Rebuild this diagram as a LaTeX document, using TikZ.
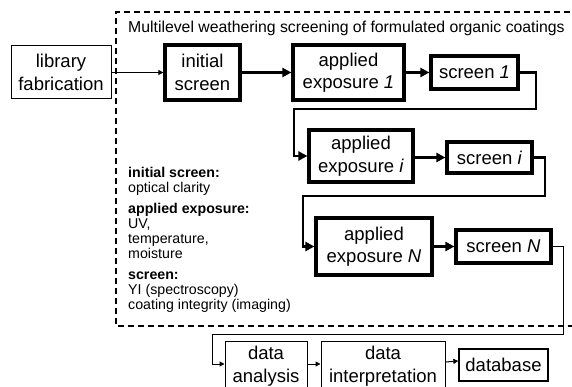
\documentclass[tikz,border=0pt]{standalone}
\usepackage{fontspec}
\setmainfont{Liberation Sans}
\usetikzlibrary{arrows.meta}
\tikzset{
  big/.style={font=\fontsize{18.5}{22.5}\selectfont},
  thickbox/.style={draw, line width=3.2pt, inner sep=0pt, align=center, big},
  thinbox/.style={draw, line width=1pt, inner sep=0pt, align=center, big},
  thickarrow/.style={line width=2.6pt, -{Triangle[length=9pt,width=9pt]}},
  thinarrow/.style={line width=1pt, -{Triangle[length=5pt,width=5pt]}},
}
\begin{document}
\begin{tikzpicture}[x=1pt,y=-1pt]
\useasboundingbox (0,0) rectangle (572,387);
\clip (0,0) rectangle (572,387);
\fill[white] (0,0) rectangle (572,387);
% dashed frame
\draw[line width=1.5pt, dash pattern=on 6pt off 4pt] (590,12) -- (116,12) -- (116,326) -- (590,326);
\node[anchor=base west, inner sep=0pt, font=\fontsize{15.8}{18}\selectfont] (title) at (128,32.5) {Multilevel weathering screening of formulated organic coatings};
% nodes
\node[thinbox, minimum width=100pt, minimum height=53pt] (lib) at (61,72.5) {library\\fabrication};
\node[thickbox, minimum width=75pt, minimum height=55pt] (init) at (202.5,72.5) {initial\\screen};
\node[thickbox, minimum width=111pt, minimum height=55pt] (ae1) at (348.5,72.5) {applied\\exposure \textit{1}};
\node[thickbox, minimum width=87pt, minimum height=33pt] (s1) at (474.5,72.5) {screen \textit{1}};
\node[thickbox, minimum width=104pt, minimum height=52pt] (aei) at (361,156) {applied\\exposure \textit{i}};
\node[thickbox, minimum width=85pt, minimum height=31pt] (si) at (489.5,157.5) {screen \textit{i}};
\node[thickbox, minimum width=116pt, minimum height=57pt] (aeN) at (374,246.5) {applied\\exposure \textit{N}};
\node[thickbox, minimum width=95pt, minimum height=33pt] (sN) at (503.5,246.5) {screen \textit{N}};
\node[thinbox, minimum width=82pt, minimum height=50pt] (da) at (266,366) {data\\analysis};
\node[thinbox, minimum width=124pt, minimum height=50pt] (di) at (383,366) {data\\interpretation};
\node[thinbox, line width=1.3pt, minimum width=89pt, minimum height=32pt] (db) at (503.5,365) {database};
% legend
\node[anchor=north west, inner sep=0pt, align=left, font=\fontsize{14.2}{15}\selectfont] (legend) at (128,167.5)
 {\textbf{initial screen:}\\optical clarity\\[6pt]
  \textbf{applied exposure:}\\UV,\\temperature,\\moisture\\[6pt]
  \textbf{screen:}\\YI (spectroscopy)\\coating integrity (imaging)};
% coordinates for loops
\coordinate (l1a) at (536,109);
\coordinate (l1b) at (294,109);
\coordinate (l2a) at (545,196);
\coordinate (l2b) at (303,196);
\coordinate (l3a) at (563,334);
\coordinate (l3b) at (212,334);
% connectors
\draw[thinarrow] (lib) -- (init);
\draw[thickarrow] (init) -- (ae1);
\draw[thickarrow] (ae1) -- (s1);
\draw[thickarrow] (aei.east |- si.west) -- (si.west);
\draw[thickarrow] (aeN) -- (sN);
\draw[thickarrow] (s1.east) -| (l1a) -- (l1b) |- (aei.west);
\draw[thickarrow] (si.east) -| (l2a) -- (l2b) |- (aeN.west);
\draw[thinarrow] (sN.east) -| (l3a) -- (l3b) |- ([yshift=2pt]da.west);
\draw[thinarrow] ([yshift=2pt]da.east) -- ([yshift=2pt]di.west);
\draw[thinarrow] ([yshift=4pt]di.east) -- ([yshift=4pt]db.west);
\end{tikzpicture}
\end{document}
